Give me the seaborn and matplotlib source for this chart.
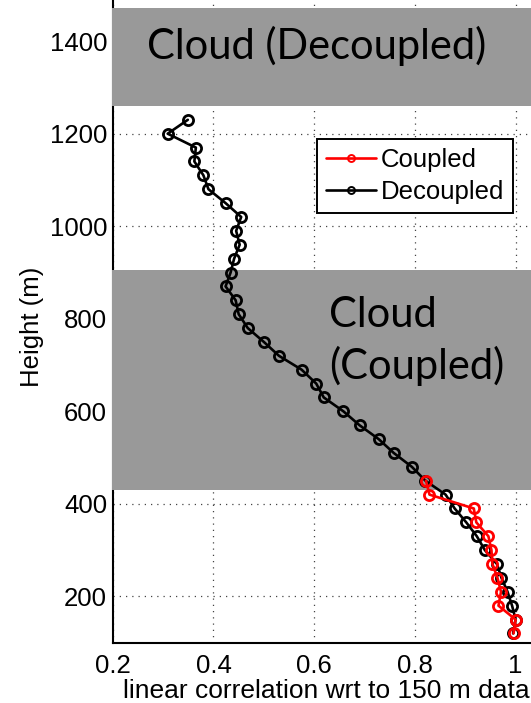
import matplotlib
matplotlib.use("Agg")
import matplotlib.pyplot as plt
import seaborn as sns
import pandas as pd
from matplotlib.patches import Rectangle
from matplotlib.lines import Line2D

# Profile heights (m) and linear correlation with the 150 m level
height_decoupled = [1230, 1200, 1170, 1140, 1110, 1080, 1050, 1020, 990, 960,
                    930, 900, 870, 840, 810, 780, 750, 720, 690, 660,
                    630, 600, 570, 540, 510, 480, 450, 420, 390, 360,
                    330, 300, 270, 240, 210, 180, 150, 120]
corr_decoupled = [0.349, 0.309, 0.365, 0.362, 0.380, 0.390, 0.424, 0.455, 0.445, 0.452,
                  0.441, 0.434, 0.424, 0.444, 0.450, 0.468, 0.500, 0.530, 0.575, 0.604,
                  0.619, 0.658, 0.690, 0.728, 0.758, 0.794, 0.821, 0.861, 0.879, 0.902,
                  0.923, 0.939, 0.963, 0.972, 0.984, 0.993, 1.000, 0.995]

height_coupled = [450, 420, 390, 360, 330, 300, 270, 240, 210, 180, 150, 120]
corr_coupled = [0.822, 0.829, 0.917, 0.922, 0.946, 0.952, 0.954, 0.964, 0.971, 0.966, 1.000, 0.996]

series_names = ["Coupled", "Decoupled"]
series_colors = ["#ff0000", "#000000"]

# Cloud layers (m)
cloud_decoupled = (1260, 1472)
cloud_coupled = (431, 906)

x_ticks = [0.2, 0.4, 0.6, 0.8, 1.0]
x_tick_labels = ["0.2", "0.4", "0.6", "0.8", "1"]
y_ticks = [200, 400, 600, 800, 1000, 1200, 1400]

sns.set_theme(style="white")
plt.rcParams["font.family"] = ["Liberation Sans", "DejaVu Sans"]
plt.rcParams["text.color"] = "black"

fig = plt.figure(figsize=(5.31, 7.03), dpi=100)
ax = fig.add_axes([0.2124, 0.0858, 0.806, 0.9215])

df_c = pd.DataFrame({"corr": corr_coupled, "height": height_coupled})
df_d = pd.DataFrame({"corr": corr_decoupled, "height": height_decoupled})

line_kw = dict(marker="o", markersize=7.3, markerfacecolor="none",
               markeredgewidth=2.0, linewidth=1.9, sort=False, estimator=None, zorder=3)
sns.lineplot(data=df_d, x="corr", y="height", color=series_colors[1],
             markeredgecolor=series_colors[1], ax=ax, **line_kw)
sns.lineplot(data=df_c, x="corr", y="height", color=series_colors[0],
             markeredgecolor=series_colors[0], ax=ax, **line_kw)

ax.set_xlim(0.2, 1.05)
ax.set_ylim(100, 1500)
ax.set_xticks(x_ticks)
ax.set_xticklabels(x_tick_labels)
ax.set_yticks(y_ticks)

ax.grid(True, linestyle=(0, (1, 4)), color="#444444", linewidth=0.9)
ax.tick_params(axis="both", direction="in", length=5, width=1, color="black",
               labelsize=18.5, labelcolor="black")
ax.tick_params(axis="x", pad=8)
ax.tick_params(axis="y", pad=4)
for side in ("top", "right"):
    ax.spines[side].set_visible(False)
for side in ("left", "bottom"):
    ax.spines[side].set_color("black")
    ax.spines[side].set_linewidth(1.5)

ax.set_xlabel("linear correlation wrt to 150 m data", fontsize=19, color="black", labelpad=1)
ax.set_ylabel("Height (m)", fontsize=18.5, color="black")
ax.yaxis.set_label_coords(-0.161, 0.487)

# Grey shading for the cloud layers
x0 = 0.198
for lo, hi in (cloud_decoupled, cloud_coupled):
    ax.add_patch(Rectangle((x0, lo), 1.2 - x0, hi - lo, facecolor="#999999",
                           edgecolor="none", zorder=2.6, clip_on=False))

cloud_font = ["Lato", "DejaVu Sans"]
ax.text(0.267, 1362, "Cloud (Decoupled)", fontsize=30, family=cloud_font,
        va="baseline", ha="left", color="black", zorder=4)
ax.text(0.630, 783, "Cloud", fontsize=30, family=cloud_font,
        va="baseline", ha="left", color="black", zorder=4)
ax.text(0.630, 669, "(Coupled)", fontsize=30, family=cloud_font,
        va="baseline", ha="left", color="black", zorder=4)

legend_handles = [Line2D([], [], color=c, linewidth=1.9, marker="o", markersize=5,
                         markerfacecolor="none", markeredgecolor=c, markeredgewidth=1.4)
                  for c in series_colors]
leg = ax.legend(legend_handles, series_names,
                loc="upper left", bbox_to_anchor=(316.7 / 531, 1 - 139 / 703),
                bbox_transform=fig.transFigure, fontsize=18.5, frameon=True,
                fancybox=False, shadow=False, handlelength=1.95,
                handletextpad=0.2, labelspacing=0.3, borderpad=0.35,
                borderaxespad=0, labelcolor="black")
leg.get_frame().set_edgecolor("black")
leg.get_frame().set_linewidth(1.4)
leg.get_frame().set_facecolor("white")
leg.get_frame().set_alpha(1)
leg.set_zorder(5)

fig.savefig("out.png", dpi=100)
